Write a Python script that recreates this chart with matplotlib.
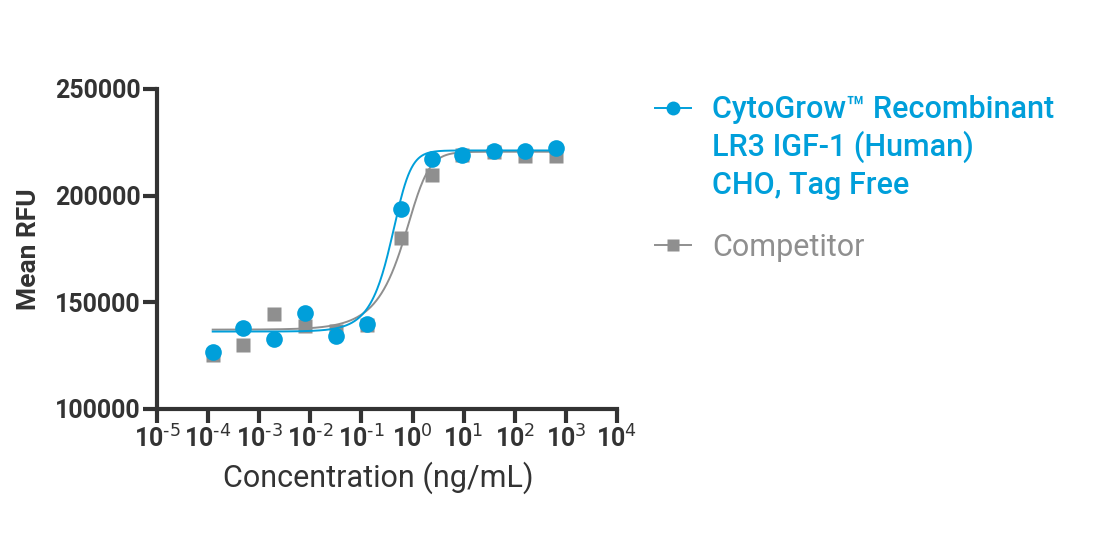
import numpy as np
import matplotlib
matplotlib.use('Agg')
import matplotlib.pyplot as plt
from matplotlib.lines import Line2D
from matplotlib.ticker import FixedLocator, FuncFormatter

plt.rcParams['font.family'] = ['Roboto', 'DejaVu Sans']
plt.rcParams['mathtext.default'] = 'regular'

# data
conc = [0.000123, 0.00049, 0.00199, 0.0079, 0.032, 0.126, 0.60, 2.4, 9.4, 39, 158, 650]
cytogrow = [126600, 137800, 133000, 144900, 134200, 139700, 193600, 217000, 219200, 221100, 221100, 222500]
competitor = [125500, 130000, 144400, 139100, 136500, 139500, 180000, 209800, 219000, 220500, 218600, 218600]

# 5PL fit parameters (bottom, top, c, hill, asymmetry)
fit_cytogrow = (136300, 221200, 0.56, 2.8, 0.5)
fit_competitor = (137200, 220600, 1.22, 2.35, 0.42)

legend_blue = ['CytoGrow\u2122 Recombinant', 'LR3 IGF-1 (Human)', 'CHO, Tag Free']
legend_grey = 'Competitor'

BLUE = '#009FDA'
GREY = '#8F8F8F'
DARK = '#333333'


def five_pl(x, bottom, top, c, hill, s):
    return bottom + (top - bottom) / (1 + (c / x) ** hill) ** s


fig = plt.figure(figsize=(11.04, 5.34), dpi=100)
ax = fig.add_axes([157 / 1104, 1 - 409 / 534, 460 / 1104, 320 / 534])

xs = np.logspace(np.log10(conc[0]), np.log10(conc[-1]), 400)
ax.plot(xs, five_pl(xs, *fit_competitor), color=GREY, lw=1.4, zorder=2)
ax.plot(conc, competitor, 's', color=GREY, ms=10, mec='none', zorder=3)
ax.plot(xs, five_pl(xs, *fit_cytogrow), color=BLUE, lw=1.4, zorder=4)
ax.plot(conc, cytogrow, 'o', color=BLUE, ms=12, mec='none', zorder=5)

ax.set_xscale('log')
ax.set_xlim(1e-5, 1e4)
ax.set_ylim(100000, 250000)
ax.xaxis.set_major_locator(FixedLocator([10.0 ** e for e in range(-5, 5)]))
ax.xaxis.set_minor_locator(FixedLocator([]))
ax.xaxis.set_major_formatter(FuncFormatter(lambda v, p: r'$10^{\text{%d}}$' % round(np.log10(v))))
ax.set_yticks([100000, 150000, 200000, 250000])

for s in ['top', 'right']:
    ax.spines[s].set_visible(False)
for s in ['left', 'bottom']:
    ax.spines[s].set_linewidth(3)
    ax.spines[s].set_color(DARK)
ax.tick_params(length=10, width=3, color=DARK, labelcolor=DARK, labelsize=18, pad=2)
for lab in ax.get_xticklabels() + ax.get_yticklabels():
    lab.set_fontweight('bold')

ax.set_ylabel('Mean RFU', fontsize=19, fontweight='bold', color=DARK, labelpad=10)
ax.set_xlabel('Concentration (ng/mL)', fontsize=22, color=DARK, labelpad=6)
ax.xaxis.label.set_x(0.4815)

# legend drawn by hand
def legend_item(y, color, marker, ms):
    fig.add_artist(Line2D([655 / 1104, 673 / 1104, 691 / 1104], [1 - y / 534] * 3,
                          transform=fig.transFigure, color=color, lw=1.4,
                          marker=marker, markevery=[1], ms=ms, mec='none'))

legend_item(108, BLUE, 'o', 10)
for i, line in enumerate(legend_blue):
    fig.text(712 / 1104, 1 - (118.5 + 37.5 * i) / 534, line, color=BLUE, fontsize=22,
             fontweight='medium', va='baseline', ha='left')
legend_item(245, GREY, 's', 9)
fig.text(712 / 1104, 1 - 256.5 / 534, legend_grey, color=GREY, fontsize=22,
         va='baseline', ha='left')

fig.savefig('out.png', dpi=100)
